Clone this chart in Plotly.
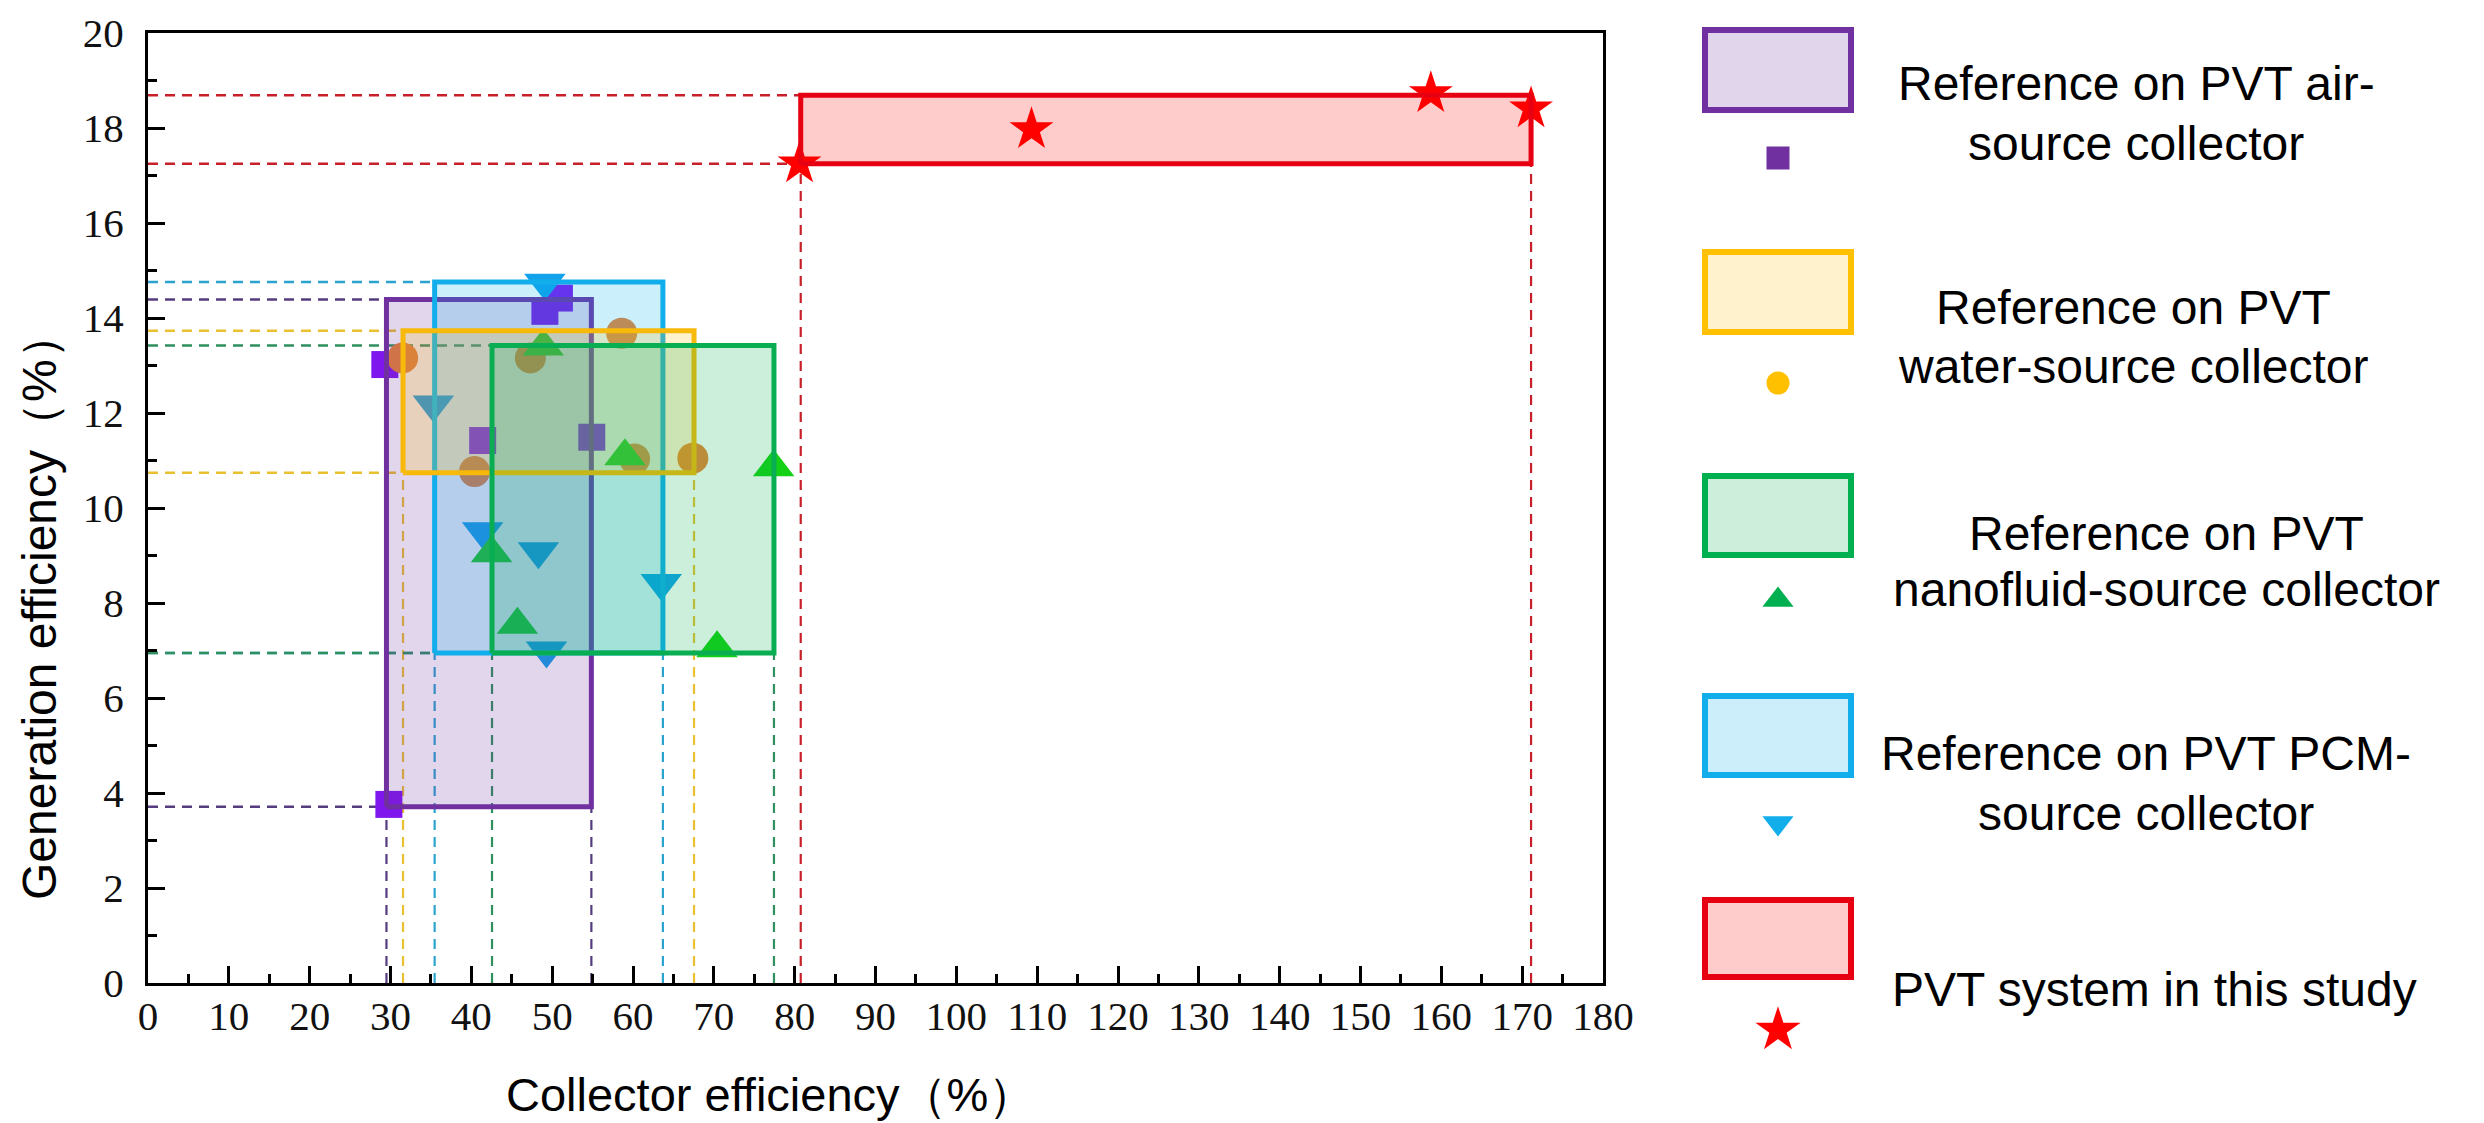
import plotly.graph_objects as go

W, H = 2484, 1123
PL, PR, PT, PB = 140, 1595, 25, 975   # plot area in pixels

# ---------------- data ----------------
air_x = [29.3, 29.8, 41.4, 49.1, 50.9, 54.9]
air_y = [13.02, 3.76, 11.42, 14.14, 14.42, 11.49]
water_x = [31.5, 40.4, 47.3, 58.6, 60.2, 67.4]
water_y = [13.16, 10.77, 13.16, 13.68, 11.03, 11.05]
nano_x = [42.5, 45.7, 48.9, 59.0, 70.4, 77.4]
nano_y = [9.05, 7.54, 13.40, 11.09, 7.05, 10.86]
pcm_x = [35.3, 41.4, 48.3, 49.1, 49.3, 63.5]
pcm_y = [12.18, 9.51, 9.09, 14.74, 7.00, 8.42]
study_x = [80.6, 109.3, 158.7, 171.1]
study_y = [17.25, 17.97, 18.73, 18.41]

# ranges (x0, x1, y0, y1) of each group
box_air = [29.5, 54.85, 3.71, 14.39]
box_water = [31.55, 67.55, 10.74, 13.73]
box_nano = [42.56, 77.44, 6.95, 13.42]
box_pcm = [35.46, 63.7, 6.95, 14.76]
box_study = [80.75, 171.1, 17.25, 18.69]

x_ticks = list(range(0, 181, 10))
y_ticks = list(range(0, 21, 2))

legend_lines = [
    ["Reference on PVT air-", "source collector"],
    ["Reference on PVT", "water-source collector"],
    ["Reference on PVT", "nanofluid-source collector"],
    ["Reference on PVT PCM-", "source collector"],
    ["PVT system in this study"],
]

# ---------------- styles ----------------
groups = [
    # name, xs, ys, box, marker symbol, marker color, size, outline, fill, dash color
    ("air", air_x, air_y, box_air, "square", "#8016EE", 27, "#7030A0", "rgba(112,48,160,0.20)", "#553C7E"),
    ("pcm", pcm_x, pcm_y, box_pcm, "triangle-down", "#12A2EA", 36, "#12AEEC", "rgba(0,176,240,0.20)", "#2BA3CF"),
    ("water", water_x, water_y, box_water, "circle", "#EA8434", 31, "#F7B90A", "rgba(255,192,0,0.20)", "#E8C030"),
    ("nano", nano_x, nano_y, box_nano, "triangle-up", "#14D016", 36, "#0AAE52", "rgba(0,176,80,0.20)", "#2F8F5E"),
    ("study", study_x, study_y, box_study, "star", "#FF0000", 33, "#E60012", "rgba(255,0,0,0.20)", "#C8202A"),
]

fig = go.Figure()

# dashed guide lines
for name, xs, ys, b, sym, mc, ms, oc, fc, dc in groups:
    x0, x1, y0, y1 = b
    for yy in (y0, y1):
        fig.add_trace(go.Scatter(x=[0, x0], y=[yy, yy], mode="lines",
                                 line=dict(color=dc, width=2.5, dash="10px,7px"),
                                 hoverinfo="skip", showlegend=False))
    for xx in (x0, x1):
        fig.add_trace(go.Scatter(x=[xx, xx], y=[0, y0], mode="lines",
                                 line=dict(color=dc, width=2.2, dash="10px,7px"),
                                 hoverinfo="skip", showlegend=False))

# markers
for name, xs, ys, b, sym, mc, ms, oc, fc, dc in groups:
    fig.add_trace(go.Scatter(x=xs, y=ys, mode="markers",
                             marker=dict(symbol=sym, color=mc, size=ms, line=dict(width=0)),
                             showlegend=False))

# range boxes (drawn over the markers, semi transparent)
for name, xs, ys, b, sym, mc, ms, oc, fc, dc in groups:
    x0, x1, y0, y1 = b
    fig.add_trace(go.Scatter(x=[x0, x1, x1, x0, x0], y=[y0, y0, y1, y1, y0],
                             mode="lines", fill="toself", fillcolor=fc,
                             line=dict(color=oc, width=5), hoverinfo="skip",
                             showlegend=False))

# ---------------- legend (pixel coordinate overlay axes) ----------------
leg_box_x = (1697, 1843)
leg_box_y = [(22, 102), (244, 324), (468, 547), (688, 767), (892, 969)]
leg_marker_y = [150, 375, 592, 815, 1022]
leg_marker_sz = [23, 23, 27, 27, 34]
leg_marker_col = ["#7030A0", "#FFC000", "#00B050", "#12AEEC", "#FF0000"]
leg_outline = ["#7030A0", "#FFC000", "#00B050", "#12AEEC", "#E60012"]
leg_fill = ["#E1D5EC", "#FFF2CC", "#CCEEDA", "#CCEEFA", "#FFCCCC"]
leg_sym = ["square", "circle", "triangle-up", "triangle-down", "star"]
leg_text_x = [2128, 2125, 2158, 2138, 2146]
leg_text_y = [[75, 135], [299, 358], [525, 581], [745, 805], [981]]

shapes = []
for i in range(5):
    ya, yb = leg_box_y[i]
    shapes.append(dict(type="rect", xref="x2", yref="y2",
                       x0=leg_box_x[0], x1=leg_box_x[1], y0=ya, y1=yb,
                       line=dict(color=leg_outline[i], width=6),
                       fillcolor=leg_fill[i]))
    fig.add_trace(go.Scatter(x=[(leg_box_x[0] + leg_box_x[1]) / 2], y=[leg_marker_y[i]],
                             xaxis="x2", yaxis="y2", mode="markers",
                             marker=dict(symbol=leg_sym[i], color=leg_marker_col[i],
                                         size=leg_marker_sz[i], line=dict(width=0)),
                             showlegend=False, hoverinfo="skip"))

annotations = []
for i, lines in enumerate(legend_lines):
    for j, t in enumerate(lines):
        annotations.append(dict(text=t, x=leg_text_x[i], y=leg_text_y[i][j],
                                xref="x2", yref="y2", showarrow=False,
                                xanchor="center", yanchor="middle",
                                font=dict(family="Liberation Sans", size=48, color="black")))

# axis titles
annotations.append(dict(text="Collector efficiency（%）", x=762, y=1086, xref="x2", yref="y2",
                        showarrow=False, xanchor="center", yanchor="middle",
                        font=dict(family="Liberation Sans", size=47, color="black")))
annotations.append(dict(text="Generation efficiency（%）", x=31, y=598, xref="x2", yref="y2",
                        showarrow=False, xanchor="center", yanchor="middle", textangle=-90,
                        font=dict(family="Liberation Sans", size=48, color="black")))

axis_common = dict(showgrid=False, zeroline=False, showline=True, linecolor="black",
                   linewidth=3, mirror=True, ticks="inside", ticklen=17, tickwidth=3,
                   tickcolor="black",
                   tickfont=dict(family="Liberation Serif", size=41, color="#111111"))

fig.update_layout(
    width=W, height=H,
    margin=dict(l=0, r=0, t=0, b=0),
    paper_bgcolor="white", plot_bgcolor="rgba(0,0,0,0)",
    showlegend=False,
    xaxis=dict(domain=[PL / W, PR / W], range=[0, 180], tickvals=x_ticks,
               minor=dict(dtick=5, ticklen=9, tickwidth=3, ticks="inside", tickcolor="black"),
               ticklabelstandoff=-5, anchor="y", automargin=False, **axis_common),
    yaxis=dict(domain=[(H - PB) / H, (H - PT) / H], range=[0, 20], tickvals=y_ticks,
               minor=dict(dtick=1, ticklen=9, tickwidth=3, ticks="inside", tickcolor="black"),
               ticklabelstandoff=13, anchor="x", automargin=False, **axis_common),
    xaxis2=dict(domain=[0, 1], range=[0, W], visible=False, anchor="y2", fixedrange=True),
    yaxis2=dict(domain=[0, 1], range=[H, 0], visible=False, anchor="x2", fixedrange=True),
    shapes=shapes,
    annotations=annotations,
)

fig.write_html("out.html")
